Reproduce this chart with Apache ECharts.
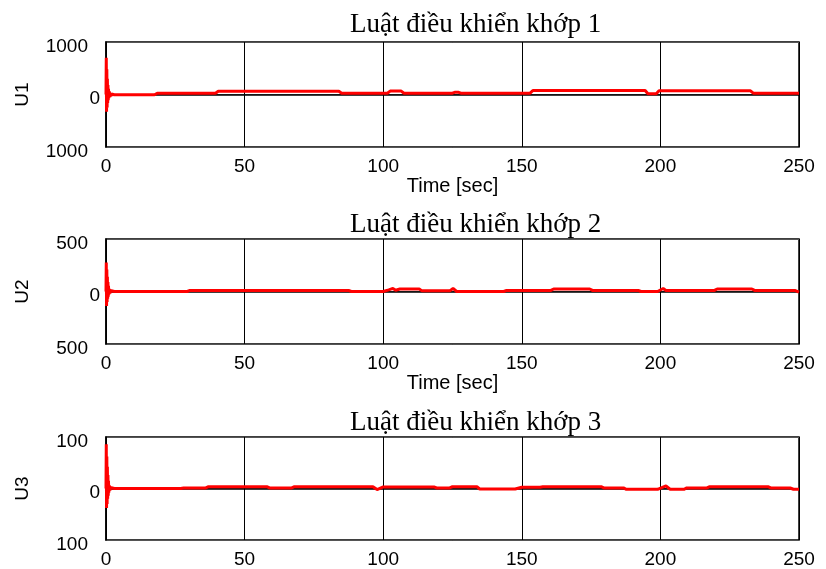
<!DOCTYPE html>
<html>
<head>
<meta charset="utf-8">
<script src="https://cdn.jsdelivr.net/npm/echarts@6/dist/echarts.min.js"></script>
<style>
html,body{margin:0;padding:0;background:#fff;}
#chart{width:826px;height:569px;}
</style>
</head>
<body>
<div id="chart"></div>
<script>
// ---- data ----
const titles = ['Luật điều khiển khớp 1', 'Luật điều khiển khớp 2', 'Luật điều khiển khớp 3'];
const yNames = ['U1', 'U2', 'U3'];
const yLimits = [1000, 500, 100];
const xTicks = [0, 50, 100, 150, 200, 250];
const xName = 'Time [sec]';

const u1T = [0, 0.1, 0.2, 0.3, 0.4, 0.5, 0.6, 0.7, 0.8, 0.9, 1.0, 1.2, 1.4, 1.6, 1.8, 2.0, 2.5, 3,
  17.5, 18.5, 39.5, 40.5, 84, 85, 101.5, 102.5, 106.5, 107.5, 125, 126, 127, 128, 153, 154,
  194.5, 195.5, 198.5, 199.5, 232.5, 233.5, 250];
const u1V = [0, 700, -330, 480, -250, 300, -160, 180, -110, 110, -70, 60, -50, 30, -30, 10, -15, -5,
  -5, 25, 25, 63, 63, 25, 25, 65, 65, 25, 25, 45, 45, 25, 25, 76,
  76, 13, 13, 70, 70, 25, 25];

const u2T = [0, 0.1, 0.2, 0.3, 0.4, 0.5, 0.6, 0.7, 0.8, 0.9, 1.0, 1.2, 1.4, 1.6, 1.8, 2.0, 3,
  29.3, 30.3, 87.5, 88.5, 100, 102, 103.5, 104.5, 106, 113, 114, 124, 125.2, 125.8, 126.5,
  143.5, 144.5, 160.5, 161.5, 174.5, 175.5, 192, 193, 199, 201, 202, 219.5, 220.5, 233, 234, 248.5, 250];
const u2V = [0, 277, -138, 210, -100, 140, -70, 90, -50, 55, -30, 25, -20, 10, -8, 3, 0,
  0, 10, 10, 0, 0, 15, 29, 12, 24, 24, 6, 6, 29, 14, 0,
  0, 10, 10, 24, 24, 10, 10, 0, 0, 29, 10, 10, 24, 24, 10, 10, -6];

const u3T = [0, 0.1, 0.2, 0.3, 0.4, 0.5, 0.6, 0.7, 0.8, 0.9, 1.0, 1.2, 1.4, 1.6, 1.8, 2.0, 3,
  27, 28, 36, 37, 58, 59, 67, 68, 96.3, 97.8, 100, 118.3, 119.3, 124, 125, 133.8, 134.8, 147.6, 150,
  156.6, 157.6, 178.6, 179.6, 186.7, 187.7, 199, 202, 203.5, 208.5, 209.5, 216.8, 217.8, 238.8, 239.8,
  246.8, 248, 250];
const u3V = [0, 86, -38, 62, -30, 42, -20, 26, -14, 15, -8, 6, -4, 2, -1, 0, 0,
  0, 1, 1, 3.5, 3.5, 1, 1, 3.5, 3.5, -2, 3, 3, 1, 1, 3.5, 3.5, -1, -1, 2.5,
  2.5, 3.5, 3.5, 1, 1, -1.5, -1.5, 5, -1.5, -1.5, 1, 1, 3.5, 3.5, 1,
  1, -1.5, -1.5];

const seriesT = [u1T, u2T, u3T];
const seriesV = [u1V, u2V, u3V];

// ---- layout ----
const grids = [
  {left: 106, top: 42, width: 693, height: 105},
  {left: 106, top: 239, width: 693, height: 105},
  {left: 106, top: 437, width: 693, height: 103}
];
const titleTops = [6, 206, 404];

const SANS = 'Liberation Sans, Arial, sans-serif';
const SERIF = 'Liberation Serif, Times New Roman, serif';

const option = {
  animation: false,
  backgroundColor: '#fff',
  title: titles.map((t, i) => ({
    text: t, left: 345, top: titleTops[i],
    textStyle: {fontFamily: SERIF, fontSize: 27, fontWeight: 'normal', color: '#000'}
  })),
  grid: grids.map(g => Object.assign({show: true, borderColor: '#000', borderWidth: 1.5, backgroundColor: '#fff'}, g)),
  xAxis: grids.map((g, i) => ({
    type: 'value', gridIndex: i, min: xTicks[0], max: xTicks[xTicks.length - 1], interval: 50,
    name: i < 2 ? xName : '', nameLocation: 'middle', nameGap: 19,
    nameTextStyle: {fontFamily: SANS, fontSize: 20, color: '#000'},
    axisLine: {lineStyle: {color: '#000', width: 1.5}},
    axisTick: {show: false},
    splitLine: {show: true, lineStyle: {color: '#000', width: 1}},
    axisLabel: {fontFamily: SANS, fontSize: 19, color: '#000', margin: 10, showMaxLabel: true, showMinLabel: true}
  })),
  yAxis: grids.map((g, i) => ({
    type: 'value', gridIndex: i, min: -yLimits[i], max: yLimits[i], interval: yLimits[i],
    name: yNames[i], nameLocation: 'middle', nameGap: 74,
    nameTextStyle: {fontFamily: SANS, fontSize: 19, color: '#000'},
    axisLine: {lineStyle: {color: '#000', width: 1.5}},
    axisTick: {show: false},
    splitLine: {show: true, lineStyle: {color: '#555', width: 1}},
    axisLabel: {
      fontFamily: SANS, fontSize: 19, color: '#000', margin: 6,
      formatter: v => v === 0 ? '{z|0}' : '{p|' + Math.abs(v) + '}',
      rich: {
        p: {fontFamily: SANS, fontSize: 19, color: '#000', padding: [10, 12, 0, 0]},
        z: {fontFamily: SANS, fontSize: 19, color: '#000', padding: [8, 0, 0, 0]}
      }
    }
  })),
  series: seriesT.map((ts, i) => ({
    type: 'line', xAxisIndex: i, yAxisIndex: i, showSymbol: false, symbol: 'none',
    lineStyle: {color: '#ff0000', width: 3}, itemStyle: {color: '#ff0000'},
    data: ts.map((t, k) => [t, seriesV[i][k]])
  }))
};

const chart = echarts.init(document.getElementById('chart'), null, {renderer: 'canvas'});
chart.setOption(option);
</script>
</body>
</html>
